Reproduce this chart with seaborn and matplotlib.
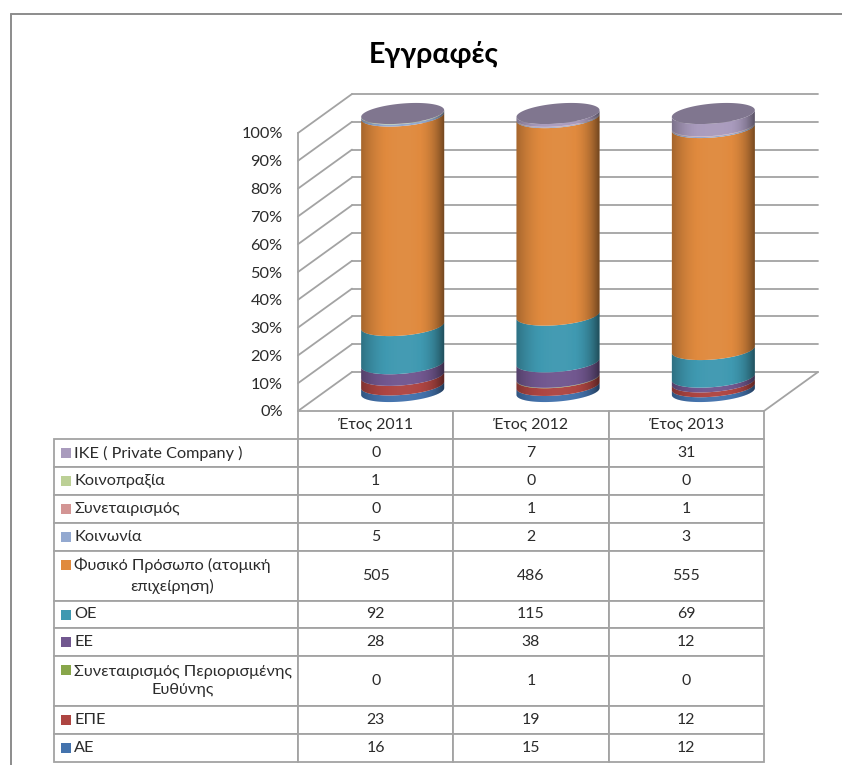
import numpy as np
import matplotlib
matplotlib.use("Agg")
import matplotlib.pyplot as plt
import pandas as pd
import seaborn as sns
from matplotlib.lines import Line2D
from matplotlib.patches import PathPatch, Rectangle
from matplotlib.path import Path

# Data
years = ["Έτος 2011", "Έτος 2012", "Έτος 2013"]
# bottom of the stack first
series_names = ["ΑΕ", "ΕΠΕ", "Συνεταιρισμός Περιορισμένης\nΕυθύνης", "ΕΕ", "ΟΕ",
                "Φυσικό Πρόσωπο (ατομική\nεπιχείρηση)", "Κοινωνία", "Συνεταιρισμός",
                "Κοινοπραξία", "ΙΚΕ ( Private Company )"]
ae = [16, 15, 12]
epe = [23, 19, 12]
syn_per = [0, 1, 0]
ee = [28, 38, 12]
oe = [92, 115, 69]
fysiko = [505, 486, 555]
koinonia = [5, 2, 3]
synet = [0, 1, 1]
koinopraxia = [1, 0, 0]
ike = [0, 7, 31]
series_values = [ae, epe, syn_per, ee, oe, fysiko, koinonia, synet, koinopraxia, ike]
colors = ["#4473ad", "#ae4542", "#88a64a", "#71578f", "#3f99b1", "#e08a3e",
          "#93a9d0", "#d39594", "#bcd096", "#a99bbd"]
cap_color = "#80768f"
y_ticks = list(range(0, 101, 10))

W, H = 842, 765
GRID = "#a3a3a3"
TEXT = "#2b2b2b"

sns.set_theme(style="white")
plt.rcParams["font.family"] = ["Lato", "Open Sans", "DejaVu Sans"]

fig = plt.figure(figsize=(W / 100, H / 100), dpi=100)


def px_axes(x0, y0, x1, y1):
    # axes from pixel box, y measured from the top of the image
    return fig.add_axes([x0 / W, 1 - y1 / H, (x1 - x0) / W, (y1 - y0) / H])


# frame: only the left and top edges are in the crop
for xs, ys in [((11, 11), (14, 765)), ((11, 842), (14, 14))]:
    fig.add_artist(Line2D([x / W for x in xs], [1 - y / H for y in ys], color="#8c8c8c", lw=1.4))

fig.text(434 / W, 1 - 54 / H, "Εγγραφές", fontsize=20.5, fontweight="bold", color="black",
         ha="center", va="center")

# front plane: ticks and table
ax_front = px_axes(298, 133, 764, 411)
ax_front.set_ylim(0, 100)
ax_front.set_xlim(0, 3)
ax_front.set_yticks(y_ticks)
ax_front.set_yticklabels([f"{t}%" for t in y_ticks], fontsize=11.8, color=TEXT)
ax_front.set_xticks([])
ax_front.tick_params(axis="y", length=0, pad=11)
ax_front.patch.set_alpha(0)
sns.despine(ax=ax_front, top=True, right=True, bottom=True, left=False)
ax_front.spines["left"].set_color(GRID)
ax_front.spines["left"].set_linewidth(1.3)

# walls: same data scale, pushed back by the depth of the 3d box
dx = 54 * 3 / 466
dy = 39 * 100 / 278
wall = dict(color=GRID, lw=1.3, clip_on=False, zorder=1, solid_capstyle="round")
for t in y_ticks:
    ax_front.plot([dx, 3 + dx], [t + dy, t + dy], **wall)
    ax_front.plot([0, dx], [t, t + dy], **wall)
ax_front.plot([3, 3 + dx], [0, dy], **wall)

# cylinders sit half way into the box, axes padded so the round ends fit
pad_px = 27.8
ax = px_axes(298 + 27, 133 - 19.5 - pad_px, 764 + 27, 411 - 19.5 + pad_px)
ax.patch.set_alpha(0)

df = pd.DataFrame(series_values, columns=years)
df.insert(0, "name", series_names)
long = df.melt(id_vars="name", var_name="year", value_name="count")
long["share"] = long["count"] / long.groupby("year")["count"].transform("sum") * 100

bottom = np.zeros(3)
for name, color in zip(series_names, colors):
    share = long[long["name"] == name].set_index("year").loc[years, "share"].to_numpy()
    sns.barplot(x=years, y=share, bottom=bottom, color=color, width=83 / 155.33, saturation=1,
                ax=ax, order=years, linewidth=0)
    bottom = bottom + share

# turn the flat seaborn bars into cylinder sides
bars = list(ax.patches)
a_bar = bars[0].get_width() / 2
b_px, tilt_px = 10, 3.4  # ellipse half height and slope, pixels
yscale = 100 / 278
t = np.linspace(0, 2 * np.pi, 121)
t_front = np.linspace(np.pi, 2 * np.pi, 60)


def ring(cx, level, th):
    return np.column_stack([cx + a_bar * np.cos(th),
                            level + (b_px * np.sin(th) + tilt_px * np.cos(th)) * yscale])


def side_path(cx, y0, y1):
    lower = ring(cx, y0, t_front)
    upper = ring(cx, y1, t_front)[::-1]
    return Path(np.vstack([lower, upper, lower[:1]]))


# shading across the cylinder: white in the middle, black at the edges
u = np.linspace(-1, 1, 256)
dark = np.where(u < 0, 0.30 * np.abs(u) ** 2.5, 0.55 * np.abs(u) ** 3.2)
shade = 0.03 - dark
grad = np.zeros((1, 256, 4))
grad[0, :, :3] = (shade[:, None] > 0).astype(float)
grad[0, :, 3] = np.abs(shade)

shapes = [(b.get_x() + a_bar, b.get_y(), b.get_height(), b.get_facecolor()) for b in bars]
for b in bars:
    b.remove()

for i, (cx, y0, h, fc) in enumerate(shapes):
    if h > 0:
        ax.add_patch(PathPatch(side_path(cx, y0, y0 + h), facecolor=fc, edgecolor="none", zorder=3 + i * 0.01))

for k in range(len(years)):
    body = side_path(k, 0, 100)
    im = ax.imshow(grad, extent=(k - a_bar, k + a_bar, -10, 110), aspect="auto", zorder=4)
    im.set_clip_path(PathPatch(body, transform=ax.transData))
    ax.add_patch(PathPatch(Path(ring(k, 100, t)), facecolor=cap_color, edgecolor="none", zorder=5))
ax.set_xlim(-0.5, 2.5)
ax.set_ylim(-pad_px * yscale, 100 + pad_px * yscale)
ax.axis("off")

# data table under the chart, top row first
row_px = [411, 439, 467, 495, 523, 551, 601, 628, 656, 706, 734, 762]
rows = [[series_names[i]] + [str(v) for v in series_values[i]] for i in range(9, -1, -1)]
cell_text = [[""] + years] + rows
col_px = [54, 298, 453.3, 608.6, 764]
col_w = [(b - a) / (764 - 54) for a, b in zip(col_px, col_px[1:])]
tab = ax_front.table(cellText=cell_text, colWidths=col_w, cellLoc="center",
                     bbox=[(54 - 298) / 466, (411 - 762) / 278, (764 - 54) / 466, (762 - 411) / 278])
tab.auto_set_font_size(False)
tab.set_fontsize(11.4)
for (r, c), cell in tab.get_celld().items():
    cell.set_height((row_px[r + 1] - row_px[r]) / 351)
    cell.set_edgecolor(GRID)
    cell.set_linewidth(1.3)
    cell.get_text().set_color(TEXT)
    if r == 0 and c == 0:
        cell.visible_edges = ""
    if c == 0 and r > 0:
        cell.PAD = 20 / 244
        cell.get_text().set_ha("left")
        cell._loc = "left"
        cell.get_text().set_multialignment("center")
        cell.get_text().set_linespacing(1.45)
        cell.get_text().set_fontsize(11.7)

# little legend keys in the first column
for i in range(10):
    r = 10 - i
    ytop = row_px[r] + 8.5
    fig.add_artist(Rectangle((60.5 / W, 1 - (ytop + 10) / H), 10 / W, 10 / H, transform=fig.transFigure,
                             facecolor=colors[i], edgecolor="none"))

plt.savefig("out.png", dpi=100)
